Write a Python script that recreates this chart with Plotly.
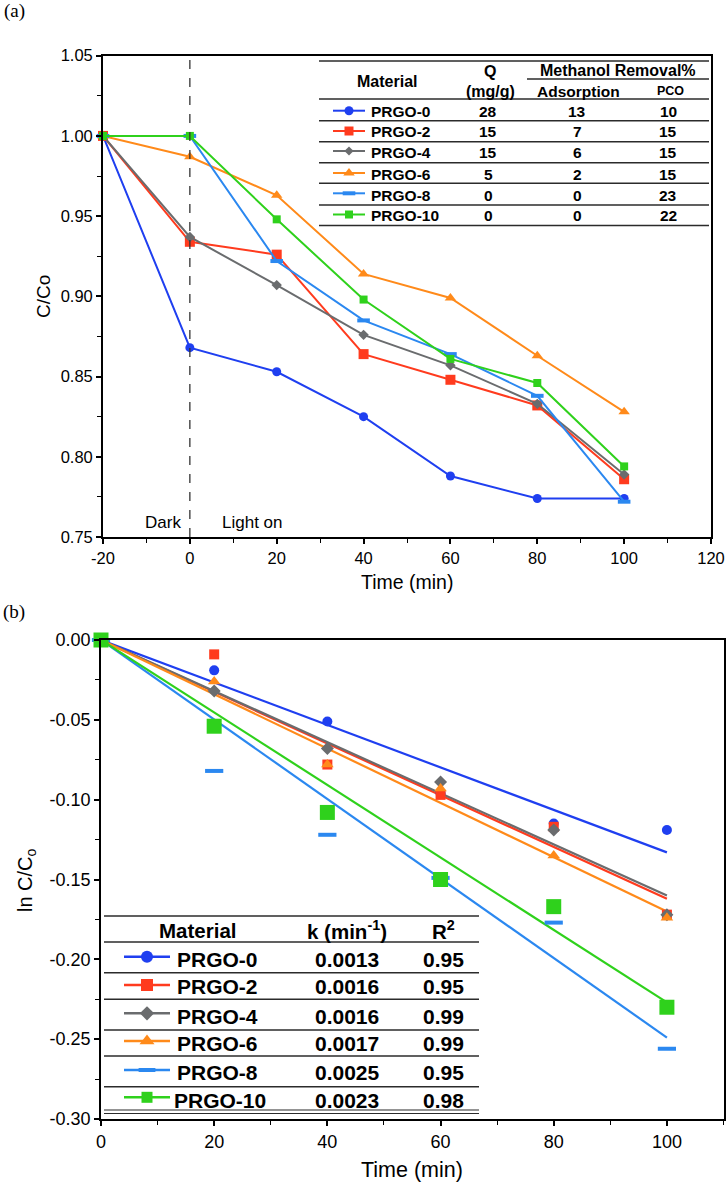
import plotly.graph_objects as go

# ---- panel (a) data : C/Co vs time ----
time_a = [-20, 0, 20, 40, 60, 80, 100]
cc_prgo0 = [1.000, 0.868, 0.853, 0.825, 0.788, 0.774, 0.774]
cc_prgo2 = [1.000, 0.934, 0.926, 0.864, 0.848, 0.832, 0.786]
cc_prgo4 = [1.000, 0.937, 0.907, 0.876, 0.857, 0.833, 0.789]
cc_prgo6 = [1.000, 0.987, 0.963, 0.914, 0.899, 0.863, 0.828]
cc_prgo8 = [1.000, 1.000, 0.922, 0.885, 0.864, 0.838, 0.772]
cc_prgo10 = [1.000, 1.000, 0.948, 0.898, 0.861, 0.846, 0.794]

# ---- panel (b) data : ln C/Co vs time + fitted lines ----
time_b = [0, 20, 40, 60, 80, 100]
ln_prgo0 = [0, -0.019, -0.051, -0.096, -0.115, -0.119]
ln_prgo2 = [0, -0.009, -0.078, -0.097, -0.117, -0.172]
ln_prgo4 = [0, -0.032, -0.068, -0.089, -0.119, -0.172]
ln_prgo6 = [0, -0.026, -0.078, -0.093, -0.135, -0.174]
ln_prgo8 = [0, -0.082, -0.122, -0.149, -0.177, -0.256]
ln_prgo10 = [0, -0.054, -0.108, -0.150, -0.167, -0.230]
fit_x = [0, 100]
fit_end = [-0.133, -0.162, -0.160, -0.170, -0.249, -0.227]

# ---- table contents ----
materials = ["PRGO-0", "PRGO-2", "PRGO-4", "PRGO-6", "PRGO-8", "PRGO-10"]
q_mgg = [28, 15, 15, 5, 0, 0]
ads_pct = [13, 7, 6, 2, 0, 0]
pco_pct = [10, 15, 15, 15, 23, 22]
k_vals = ["0.0013", "0.0016", "0.0016", "0.0017", "0.0025", "0.0023"]
r2_vals = ["0.95", "0.95", "0.99", "0.99", "0.95", "0.98"]

# ---- tick labels ----
xa_ticks = [-20, 0, 20, 40, 60, 80, 100, 120]
ya_ticks = [0.75, 0.80, 0.85, 0.90, 0.95, 1.00, 1.05]
xb_ticks = [0, 20, 40, 60, 80, 100]
yb_ticks = [0.00, -0.05, -0.10, -0.15, -0.20, -0.25, -0.30]
yb_text = ["0.00", "-0.05", "-0.10", "-0.15", "-0.20", "-0.25", "-0.30"]

colors = ["#1f3ff0", "#ff3b1e", "#6a6c6e", "#ff8a1a", "#2b88f0", "#2fd11c"]
symbols = ["circle", "square", "diamond", "triangle-up", "line-ew", "square"]
size_a = [9, 10, 8, 10, 9, 8]
size_b = [10, 10, 10, 11, 13, 15]
size_leg_a = [9, 9, 7, 10, 9, 8]
size_leg_b = [12, 12, 11, 13, 12, 11]

cc_all = [cc_prgo0, cc_prgo2, cc_prgo4, cc_prgo6, cc_prgo8, cc_prgo10]
ln_all = [ln_prgo0, ln_prgo2, ln_prgo4, ln_prgo6, ln_prgo8, ln_prgo10]

W, H = 727, 1183
FONT = "Liberation Sans, Arial, sans-serif"


def mk(i, size):
    m = dict(symbol=symbols[i], size=size, color=colors[i])
    if symbols[i] == "line-ew":
        m["line"] = dict(color=colors[i], width=4)
    else:
        m["line"] = dict(width=0)
    return m


fig = go.Figure()

# panel (a)
for i in range(6):
    fig.add_trace(go.Scatter(x=time_a, y=cc_all[i], mode="lines+markers",
                             line=dict(color=colors[i], width=2),
                             marker=mk(i, size_a[i]), xaxis="x", yaxis="y",
                             showlegend=False, cliponaxis=False))

# panel (b): fitted lines, then points
for i in range(6):
    fig.add_trace(go.Scatter(x=fit_x, y=[0, fit_end[i]], mode="lines",
                             line=dict(color=colors[i], width=2.2),
                             xaxis="x2", yaxis="y2", showlegend=False))
for i in range(6):
    fig.add_trace(go.Scatter(x=time_b, y=ln_all[i], mode="markers",
                             marker=mk(i, size_b[i]), xaxis="x2", yaxis="y2",
                             showlegend=False, cliponaxis=False))

# legend samples inside the tables (pixel overlay axes)
leg_a_y = [110.7, 131, 151, 173, 193.3, 214.5]
leg_b_y = [956.7, 985, 1013.3, 1041, 1070, 1097.3]
for i in range(6):
    fig.add_trace(go.Scatter(x=[333, 365], y=[leg_a_y[i]] * 2, mode="lines",
                             line=dict(color=colors[i], width=2),
                             xaxis="x3", yaxis="y3", showlegend=False))
    fig.add_trace(go.Scatter(x=[349], y=[leg_a_y[i]], mode="markers",
                             marker=mk(i, size_leg_a[i]),
                             xaxis="x3", yaxis="y3", showlegend=False))
    fig.add_trace(go.Scatter(x=[124, 170], y=[leg_b_y[i]] * 2, mode="lines",
                             line=dict(color=colors[i], width=2.5),
                             xaxis="x3", yaxis="y3", showlegend=False))
    fig.add_trace(go.Scatter(x=[147], y=[leg_b_y[i]], mode="markers",
                             marker=mk(i, size_leg_b[i]),
                             xaxis="x3", yaxis="y3", showlegend=False))

shapes = []
ann = []


def hline(x0, x1, y, w=1.6):
    shapes.append(dict(type="line", xref="x3", yref="y3", x0=x0, x1=x1, y0=y, y1=y,
                       line=dict(color="#2b2b2b", width=w)))


def txt(x, y, s, size, bold=True, anchor="center", family=FONT, angle=0):
    ann.append(dict(xref="x3", yref="y3", x=x, y=y, text=f"<b>{s}</b>" if bold else s,
                    showarrow=False, xanchor=anchor, yanchor="middle", textangle=angle,
                    font=dict(size=size, family=family, color="black")))


# dashed Dark / Light line
shapes.append(dict(type="line", xref="x", yref="y", x0=0, x1=0, y0=0.75, y1=1.05,
                   line=dict(color="#333333", width=1.3, dash="dash")))

# table (a)
for y in [61, 99, 120.7, 141.7, 162.7, 183.3, 205, 225.5]:
    hline(319, 709, y)
hline(527, 709, 79)
NARROW = "Liberation Sans Narrow, Arial Narrow, " + FONT
txt(387, 81, "Material", 16, family=NARROW)
txt(490, 71, "Q", 16, family=NARROW)
txt(490, 91, "(mg/g)", 16, family=NARROW)
txt(618, 70, "Methanol Removal%", 16, family=NARROW)
txt(578, 91, "Adsorption", 15.5)
txt(670, 91, "PCO", 12.5)
row_a_y = [111.7, 131.7, 152.7, 174, 195, 215]
for i in range(6):
    txt(369, row_a_y[i], materials[i], 15.5, anchor="left")
    txt(488, row_a_y[i], str(q_mgg[i]), 15.5)
    txt(577, row_a_y[i], str(ads_pct[i]), 15.5)
    txt(668, row_a_y[i], str(pco_pct[i]), 15.5)

# table (b)
for y in [916, 942, 972.7, 999.3, 1030, 1056, 1086.7]:
    hline(104, 479, y)
hline(104, 479, 1110, 1.2)
hline(104, 479, 1113.5, 1.2)
txt(197, 930, "Material", 20.5)
txt(347, 930, "k (min<sup>-1</sup>)", 20.5)
txt(443, 930, "R<sup>2</sup>", 20.5)
row_b_y = [959.3, 986.7, 1016, 1043.3, 1072.7, 1100]
for i in range(6):
    txt(175 if i < 5 else 172, row_b_y[i], materials[i], 21, anchor="left")
    txt(347, row_b_y[i], k_vals[i], 21)
    txt(443, row_b_y[i], r2_vals[i], 21)

# other labels
txt(14, 11, "(a)", 19, bold=False, family="Liberation Serif, Times New Roman, serif")
txt(14, 612, "(b)", 19, bold=False, family="Liberation Serif, Times New Roman, serif")
txt(163, 522, "Dark", 17, bold=False)
txt(252, 522, "Light on", 17, bold=False)
txt(407, 582, "Time (min)", 19.5, bold=False)
txt(412, 1170, "Time (min)", 21.5, bold=False)
txt(43, 297, "C/Co", 19, bold=False, angle=-90)
txt(26, 880, "ln C/C<sub>o</sub>", 20, bold=False, angle=-90)


def axis(domain, rng, tickvals, ticktext, size, minor_dtick, tick0, anchor):
    return dict(domain=domain, range=rng, tickvals=tickvals, ticktext=ticktext,
                ticks="outside", ticklen=5, tickwidth=1.5, tickcolor="black",
                showline=True, linecolor="black", linewidth=1.8, mirror=True,
                showgrid=False, zeroline=False, automargin=False, anchor=anchor,
                tickfont=dict(size=size, family=FONT, color="black"),
                minor=dict(ticks="outside", ticklen=4, tickwidth=1.3, tickcolor="black",
                           dtick=minor_dtick, tick0=tick0, showgrid=False))


fig.update_layout(
    width=W, height=H,
    margin=dict(l=0, r=0, t=0, b=0),
    paper_bgcolor="white", plot_bgcolor="rgba(0,0,0,0)",
    showlegend=False,
    xaxis=axis([103 / W, 711 / W], [-20, 120], xa_ticks, [str(v) for v in xa_ticks],
               16.5, 10, 0, "y"),
    yaxis=axis([1 - 537 / H, 1 - 55.7 / H], [0.75, 1.05], ya_ticks,
               [f"{v:.2f}" for v in ya_ticks], 16.5, 0.025, 0, "x"),
    xaxis2=axis([101 / W, 723.5 / W], [0, 110], xb_ticks, [str(v) for v in xb_ticks],
                18, 10, 0, "y2"),
    yaxis2=axis([1 - 1119 / H, 1 - 640 / H], [-0.30, 0.0], yb_ticks, yb_text,
                18, 0.025, 0, "x2"),
    xaxis3=dict(domain=[0, 1], range=[0, W], visible=False, fixedrange=True, anchor="y3"),
    yaxis3=dict(domain=[0, 1], range=[H, 0], visible=False, fixedrange=True, anchor="x3"),
    shapes=shapes,
    annotations=ann,
)

# drop the default 8px page margin so the figure fills the window exactly
fig.write_html("out.html", config={"displayModeBar": False},
               post_script="document.body.style.margin='0px';")
